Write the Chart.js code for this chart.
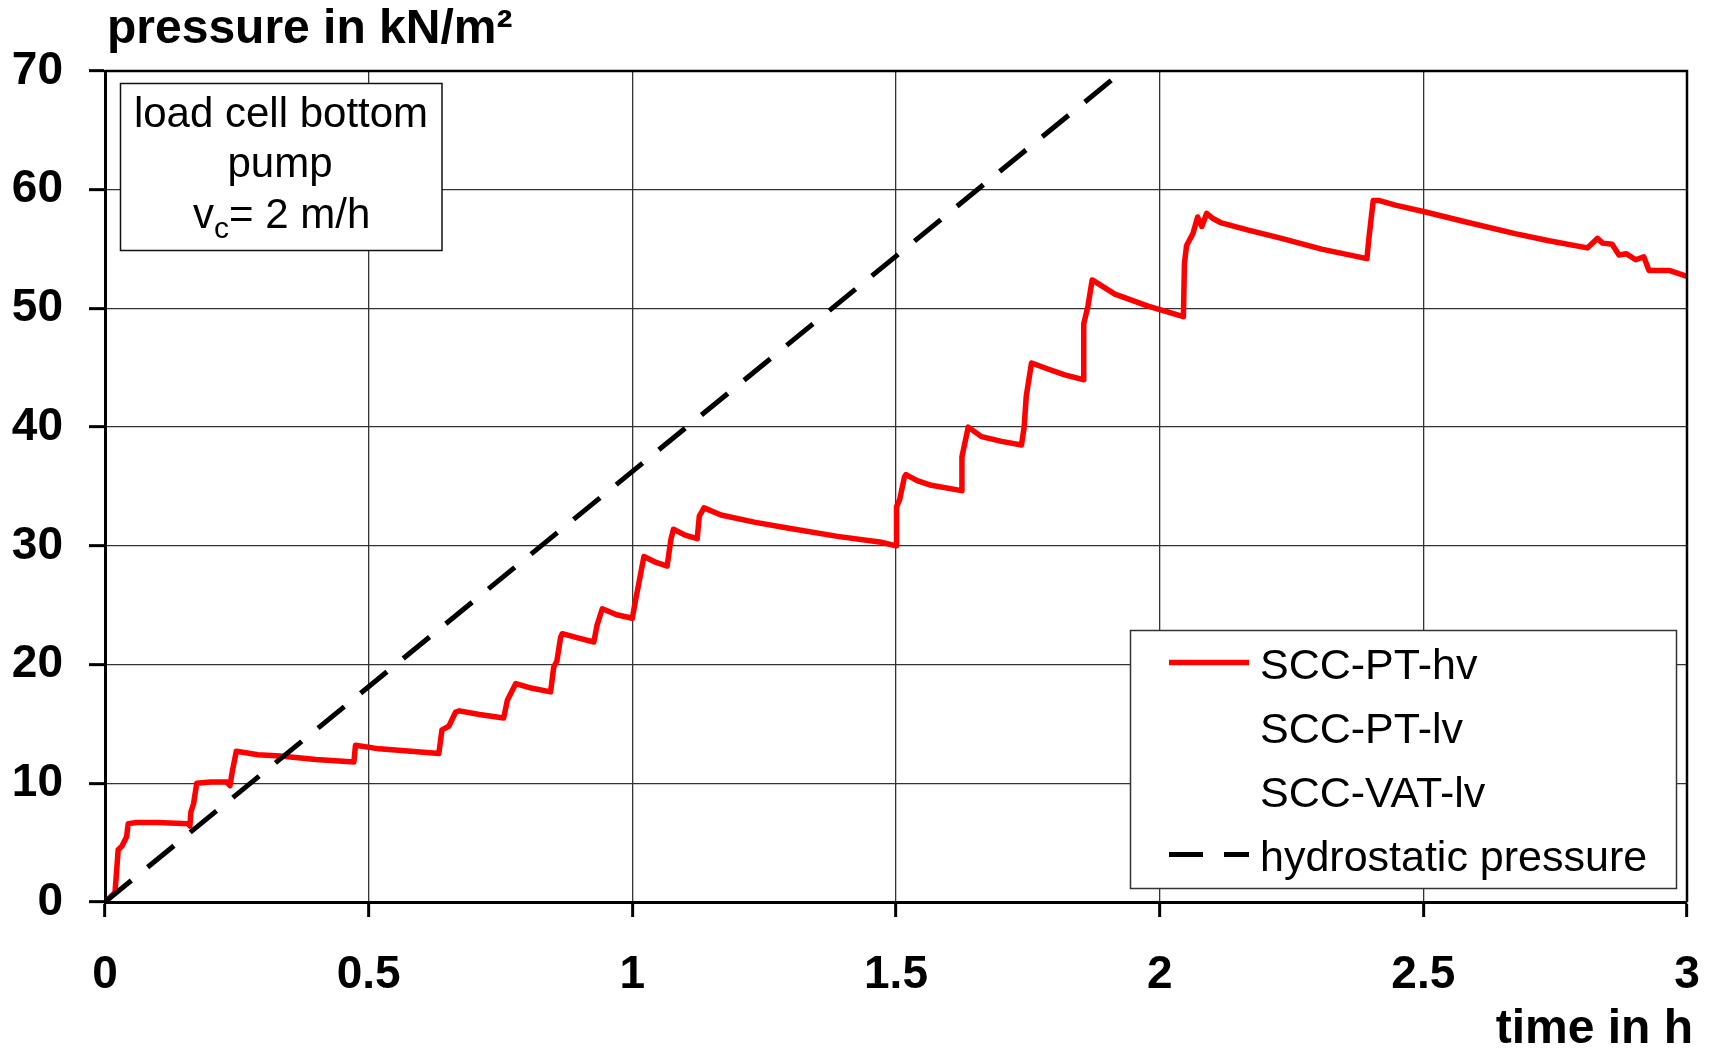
<!DOCTYPE html>
<html lang="en">
<head>
<meta charset="UTF-8">
<title>pressure in kN/m²</title>
<script src="https://cdn.jsdelivr.net/npm/chart.js"></script>
<style>
    html, body { margin: 0; padding: 0; background: #fff; }
</style>
</head>
<body>
<canvas id="mychart" width="1714" height="1050"></canvas>
<script>
    // time in h / pressure in kN/m²
    var pumpTime = [0, 0.019, 0.025, 0.032, 0.041, 0.044, 0.060, 0.100, 0.158, 0.161, 0.163, 0.168, 0.174, 0.200, 0.231, 0.237,
        0.241, 0.249, 0.290, 0.332, 0.400, 0.472, 0.475, 0.520, 0.580, 0.633, 0.639, 0.652, 0.665, 0.672, 0.710, 0.756,
        0.763, 0.779, 0.810, 0.845, 0.851, 0.857, 0.864, 0.867, 0.900, 0.927, 0.933, 0.943, 0.970, 1.000, 1.006, 1.013,
        1.022, 1.045, 1.066, 1.073, 1.078, 1.100, 1.123, 1.127, 1.136, 1.168, 1.231, 1.294, 1.389, 1.472, 1.500, 1.501,
        1.507, 1.516, 1.519, 1.540, 1.567, 1.624, 1.625, 1.637, 1.662, 1.700, 1.738, 1.743, 1.747, 1.757, 1.788, 1.820,
        1.855, 1.856, 1.864, 1.872, 1.915, 1.978, 2.045, 2.047, 2.051, 2.063, 2.072, 2.080, 2.089, 2.100, 2.117, 2.168,
        2.231, 2.307, 2.393, 2.397, 2.405, 2.415, 2.447, 2.506, 2.579, 2.674, 2.738, 2.811, 2.830, 2.840, 2.858, 2.871,
        2.885, 2.903, 2.918, 2.928, 2.966, 3.000];
    var pumpP = [0, 0.8, 4.4, 4.7, 5.5, 6.6, 6.7, 6.7, 6.6, 6.4, 7.6, 8.3, 10.0, 10.1, 10.1, 9.8,
        10.9, 12.7, 12.4, 12.3, 12.0, 11.8, 13.2, 12.9, 12.7, 12.5, 14.5, 14.8, 16.0, 16.1, 15.8, 15.5,
        17.0, 18.4, 18.0, 17.7, 19.8, 20.3, 22.3, 22.6, 22.2, 21.9, 23.3, 24.7, 24.2, 23.9, 25.4, 27.0,
        29.1, 28.6, 28.3, 30.5, 31.4, 30.9, 30.6, 32.5, 33.2, 32.6, 32.0, 31.5, 30.8, 30.3, 30.0, 33.3,
        33.9, 35.8, 36.0, 35.5, 35.1, 34.65, 37.5, 40.0, 39.2, 38.8, 38.5, 40.0, 42.6, 45.4, 44.9, 44.4,
        44.0, 48.7, 50.2, 52.4, 51.2, 50.2, 49.3, 53.8, 55.3, 56.3, 57.7, 56.9, 58.0, 57.6, 57.2, 56.6,
        55.9, 55.0, 54.2, 56.0, 59.1, 59.1, 58.7, 58.1, 57.3, 56.3, 55.7, 55.1, 55.9, 55.5, 55.4, 54.5,
        54.6, 54.1, 54.35, 53.2, 53.2, 52.7];
    var hydroTime = [0, 1.93];
    var hydroP = [0, 70];

    var seriesNames = ['SCC-PT-hv', 'SCC-PT-lv', 'SCC-VAT-lv', 'hydrostatic pressure'];
    var xTitle = 'time in h';
    var yTitle = 'pressure in kN/m²';
    var noteLines = ['load cell bottom', 'pump'];

    var FONT = "'Liberation Sans', Arial, sans-serif";

    function toPoints(xs, ys) {
        var pts = [];
        xs.forEach(function (x, i) {
            pts.push({ x: x, y: ys[i] });
        });
        return pts;
    }

    // titles, frame, note box and legend
    var decor = {
        id: 'decor',
        afterDraw: function (chart) {
            var ctx = chart.ctx;
            var a = chart.chartArea;
            ctx.save();

            // top and right frame
            ctx.strokeStyle = '#000';
            ctx.lineWidth = 2.5;
            ctx.beginPath();
            ctx.moveTo(a.left, a.top);
            ctx.lineTo(a.right, a.top);
            ctx.lineTo(a.right, a.bottom);
            ctx.stroke();

            // axis titles
            ctx.fillStyle = '#000';
            ctx.font = 'bold 48px ' + FONT;
            ctx.textBaseline = 'alphabetic';
            ctx.textAlign = 'left';
            ctx.fillText(yTitle, 107, 43);
            ctx.textAlign = 'right';
            ctx.fillText(xTitle, 1693, 1043);

            // note box
            ctx.fillStyle = '#fff';
            ctx.fillRect(120.5, 83.5, 321.5, 167);
            ctx.strokeStyle = '#111';
            ctx.lineWidth = 1.5;
            ctx.strokeRect(120.5, 83.5, 321.5, 167);
            ctx.fillStyle = '#000';
            ctx.font = '42px ' + FONT;
            ctx.textAlign = 'center';
            ctx.fillText(noteLines[0], 281, 127);
            ctx.fillText(noteLines[1], 280, 177);
            ctx.textAlign = 'left';
            var x = 193;
            ctx.fillText('v', x, 228);
            x += ctx.measureText('v').width;
            ctx.font = '30px ' + FONT;
            ctx.fillText('c', x, 238);
            x += ctx.measureText('c').width;
            ctx.font = '42px ' + FONT;
            ctx.fillText('= 2 m/h', x, 228);

            // legend
            ctx.fillStyle = '#fff';
            ctx.fillRect(1130.5, 630.5, 546, 258);
            ctx.strokeStyle = '#333';
            ctx.lineWidth = 1.5;
            ctx.strokeRect(1130.5, 630.5, 546, 258);
            ctx.font = '43px ' + FONT;
            chart.data.datasets.forEach(function (ds, i) {
                var rowY = 662.5 + i * 64;
                if (ds.borderWidth > 0 && ds.data.length > 0) {
                    ctx.save();
                    ctx.strokeStyle = ds.borderColor;
                    ctx.lineWidth = ds.borderWidth;
                    ctx.setLineDash(ds.borderDash || []);
                    ctx.beginPath();
                    ctx.moveTo(1169, rowY);
                    ctx.lineTo(1249, rowY);
                    ctx.stroke();
                    ctx.restore();
                }
                ctx.fillStyle = '#000';
                ctx.fillText(ds.label, 1260, rowY + 16.5);
            });

            ctx.restore();
        }
    };

    var tickFont = { family: FONT, size: 46, weight: 'bold' };

    function noPad(s) {
        s.paddingLeft = 0;
        s.paddingRight = 0;
        s.paddingTop = 0;
        s.paddingBottom = 0;
    }

    var ctx = document.getElementById('mychart');
    var mychart = new Chart(ctx, {
        type: 'scatter',
        data: {
            datasets: [{
                label: seriesNames[0],
                data: toPoints(pumpTime, pumpP),
                showLine: true,
                borderColor: '#ff0000',
                borderWidth: 5.5,
                borderJoinStyle: 'round',
                pointRadius: 0,
                order: 2
            }, {
                label: seriesNames[1],
                data: [],
                borderWidth: 0,
                pointRadius: 0
            }, {
                label: seriesNames[2],
                data: [],
                borderWidth: 0,
                pointRadius: 0
            }, {
                label: seriesNames[3],
                data: toPoints(hydroTime, hydroP),
                showLine: true,
                borderColor: '#000',
                borderWidth: 5,
                borderDash: [34, 21],
                pointRadius: 0,
                order: 1
            }]
        },
        options: {
            responsive: false,
            animation: false,
            devicePixelRatio: 1,
            layout: {
                padding: { top: 71, right: 27, left: 0, bottom: 0 }
            },
            plugins: {
                legend: { display: false },
                tooltip: { enabled: false }
            },
            scales: {
                x: {
                    type: 'linear',
                    min: 0,
                    max: 3,
                    afterFit: function (s) { s.height = 148; noPad(s); },
                    ticks: {
                        stepSize: 0.5, font: tickFont, color: '#000', padding: 31, maxRotation: 0,
                        callback: function (v) { return String(v); }
                    },
                    grid: { color: '#333', lineWidth: 1.3, tickLength: 15, tickColor: '#000', tickWidth: 3 },
                    border: { color: '#000', width: 3 }
                },
                y: {
                    min: 0,
                    max: 70,
                    afterFit: function (s) { s.width = 105; noPad(s); },
                    ticks: { stepSize: 10, font: tickFont, color: '#000', padding: 26 },
                    grid: { color: '#333', lineWidth: 1.3, tickLength: 16, tickColor: '#000', tickWidth: 3 },
                    border: { color: '#000', width: 3 }
                }
            }
        },
        plugins: [decor]
    });
</script>
</body>
</html>
